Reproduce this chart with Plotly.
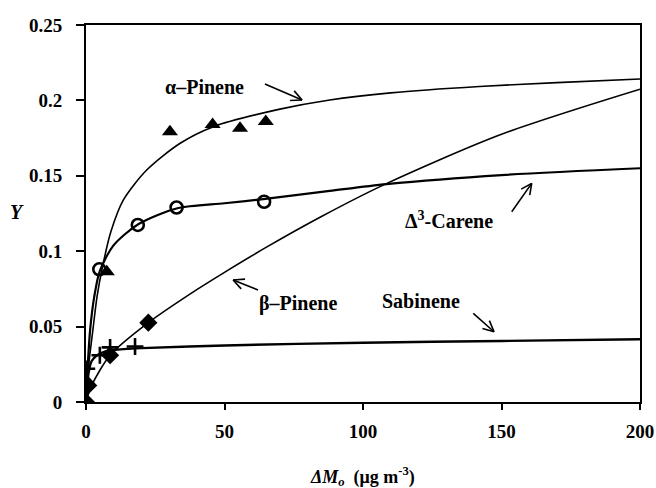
import plotly.graph_objects as go
import math

# ---------------- data ----------------
# fitted curves
alpha_curve_x = [0, 1, 2.5, 4, 6, 9, 13.5, 22, 34, 46, 70, 88, 110, 142, 170, 200]
alpha_curve_y = [0, 0.025, 0.048, 0.07, 0.09, 0.113, 0.134, 0.154, 0.1716, 0.1826, 0.1942, 0.2003, 0.205, 0.2092, 0.2118, 0.2142]

carene_curve_x = [0, 0.5, 1.5, 3, 5, 10, 19, 33, 50, 64, 88, 108.5, 150, 200]
carene_curve_y = [0, 0.02, 0.048, 0.07, 0.087, 0.104, 0.118, 0.1285, 0.1318, 0.1345, 0.14, 0.1445, 0.1505, 0.155]

beta_curve_x = [0, 2, 8.7, 22.5, 40, 50, 65, 85, 107.3, 150, 200]
beta_curve_y = [0, 0.0108, 0.031, 0.0526, 0.0745, 0.086, 0.1025, 0.123, 0.1438, 0.1775, 0.2074]

sab_curve_x = [0, 0.5, 1, 2, 4, 7, 10, 20, 50, 100, 150, 200]
sab_curve_y = [0, 0.012, 0.02, 0.027, 0.031, 0.0335, 0.0345, 0.0357, 0.0375, 0.0393, 0.0405, 0.0416]

# measured points
alpha_pts_x = [7.5, 30.3, 45.7, 55.6, 64.9]
alpha_pts_y = [0.0864, 0.1792, 0.184, 0.1815, 0.186]

carene_pts_x = [4.8, 18.7, 32.7, 64.3]
carene_pts_y = [0.088, 0.1174, 0.129, 0.1328]

beta_pts_x = [0, 0.8, 8.7, 22.5]
beta_pts_y = [0, 0.011, 0.031, 0.0526]

sab_pts_x = [0.3, 5, 8.7, 17.7]
sab_pts_y = [0.022, 0.031, 0.0362, 0.0368]

x_ticks = [0, 50, 100, 150, 200]
y_ticks = [0, 0.05, 0.1, 0.15, 0.2, 0.25]
y_tick_text = ["0", "0.05", "0.1", "0.15", "0.2", "0.25"]

# labels: (text, text x, text y, arrow tail x, tail y, arrow tip x, tip y) in data units
labels = [
    ("α–Pinene", 42.6, 0.2089, 64.6, 0.2109, 78.0, 0.2003),
    ("Δ<sup>3</sup>-Carene", 131.0, 0.1207, 153.7, 0.1262, 160.9, 0.145),
    ("β–Pinene", 76.5, 0.0656, 62.1, 0.0743, 53.1, 0.0809),
    ("Sabinene", 121.0, 0.0672, 139.8, 0.0588, 147.3, 0.0466),
]

# ---------------- figure ----------------
W, H = 656, 488
L, R, T, B = 86, 16, 25, 86
FONT = "Liberation Serif"

fig = go.Figure()

for cx, cy, w in [(alpha_curve_x, alpha_curve_y, 1.6), (carene_curve_x, carene_curve_y, 2.2),
                  (beta_curve_x, beta_curve_y, 1.6), (sab_curve_x, sab_curve_y, 2.4)]:
    fig.add_trace(go.Scatter(x=cx, y=cy, mode="lines", line=dict(color="black", width=w, shape="spline", smoothing=0.8),
                             showlegend=False, hoverinfo="skip"))

fig.add_trace(go.Scatter(x=alpha_pts_x, y=alpha_pts_y, mode="markers",
                         marker=dict(symbol="triangle-up", size=14, color="black"), showlegend=False))
fig.add_trace(go.Scatter(x=carene_pts_x, y=carene_pts_y, mode="markers",
                         marker=dict(symbol="circle-open", size=12, color="black", line=dict(width=2.6, color="black")),
                         showlegend=False))
fig.add_trace(go.Scatter(x=beta_pts_x, y=beta_pts_y, mode="markers",
                         marker=dict(symbol="diamond", size=14, color="black"), showlegend=False))
fig.add_trace(go.Scatter(x=sab_pts_x, y=sab_pts_y, mode="markers",
                         marker=dict(symbol="cross-thin", size=12, color="black", line=dict(width=2.6, color="black")),
                         showlegend=False))

# pixel helpers for open arrow heads
pw, ph = W - L - R, H - T - B
def to_px(x, y):
    return L + x / 200 * pw, T + (0.25 - y) / 0.25 * ph
def to_data(px, py):
    return (px - L) / pw * 200, 0.25 - (py - T) / ph * 0.25

shapes = []
for text, tx, ty, ax_, ay_, bx, by in labels:
    fig.add_annotation(x=tx, y=ty, text="<b>" + text + "</b>", showarrow=False, xanchor="center", yanchor="middle",
                       font=dict(family=FONT, size=20, color="black"))
    shapes.append(dict(type="line", xref="x", yref="y", x0=ax_, y0=ay_, x1=bx, y1=by,
                       line=dict(color="black", width=1.6)))
    p0 = to_px(ax_, ay_)
    p1 = to_px(bx, by)
    ang = math.atan2(p1[1] - p0[1], p1[0] - p0[0])
    for da in (0.45, -0.45):
        hx = p1[0] - 12 * math.cos(ang + da)
        hy = p1[1] - 12 * math.sin(ang + da)
        dx, dy = to_data(hx, hy)
        shapes.append(dict(type="line", xref="x", yref="y", x0=bx, y0=by, x1=dx, y1=dy,
                           line=dict(color="black", width=1.6)))
fig.update_layout(shapes=shapes)

# axis titles as annotations
fig.add_annotation(xref="paper", yref="paper", x=(17 - L) / pw, y=1 - (212 - T) / ph,
                   xanchor="center", yanchor="middle",
                   text="<b><i>Y</i></b>", showarrow=False, font=dict(family=FONT, size=20, color="black"))
fig.add_annotation(xref="paper", yref="paper", x=(362 - L) / pw, y=-(476 - T - ph) / ph,
                   xanchor="center", yanchor="middle",
                   text="<b><i>ΔM</i><sub><i>o</i></sub>  (μg m<sup>-3</sup>)</b>", showarrow=False,
                   font=dict(family=FONT, size=18, color="black"))

fig.update_layout(
    width=W, height=H,
    margin=dict(l=L, r=R, t=T, b=B, autoexpand=False),
    plot_bgcolor="white", paper_bgcolor="white",
    font=dict(family=FONT, size=19, color="black"),
)
fig.update_xaxes(range=[0, 200], tickvals=x_ticks, showgrid=False, zeroline=False, automargin=False,
                 showline=True, mirror=True, linecolor="black", linewidth=2,
                 ticks="outside", ticklen=6, tickwidth=2, tickcolor="black",
                 tickfont=dict(family=FONT, size=19, color="black", weight="bold"), ticklabelstandoff=5)
fig.update_yaxes(range=[0, 0.25], tickvals=y_ticks, ticktext=y_tick_text, showgrid=False, zeroline=False,
                 automargin=False,
                 showline=True, mirror=True, linecolor="black", linewidth=2,
                 ticks="outside", ticklen=8, tickwidth=2, tickcolor="black",
                 tickfont=dict(family=FONT, size=19, color="black", weight="bold"), ticklabelstandoff=10)

fig.write_html("out.html", config={"displayModeBar": False},
               post_script="document.body.style.margin='0';")
